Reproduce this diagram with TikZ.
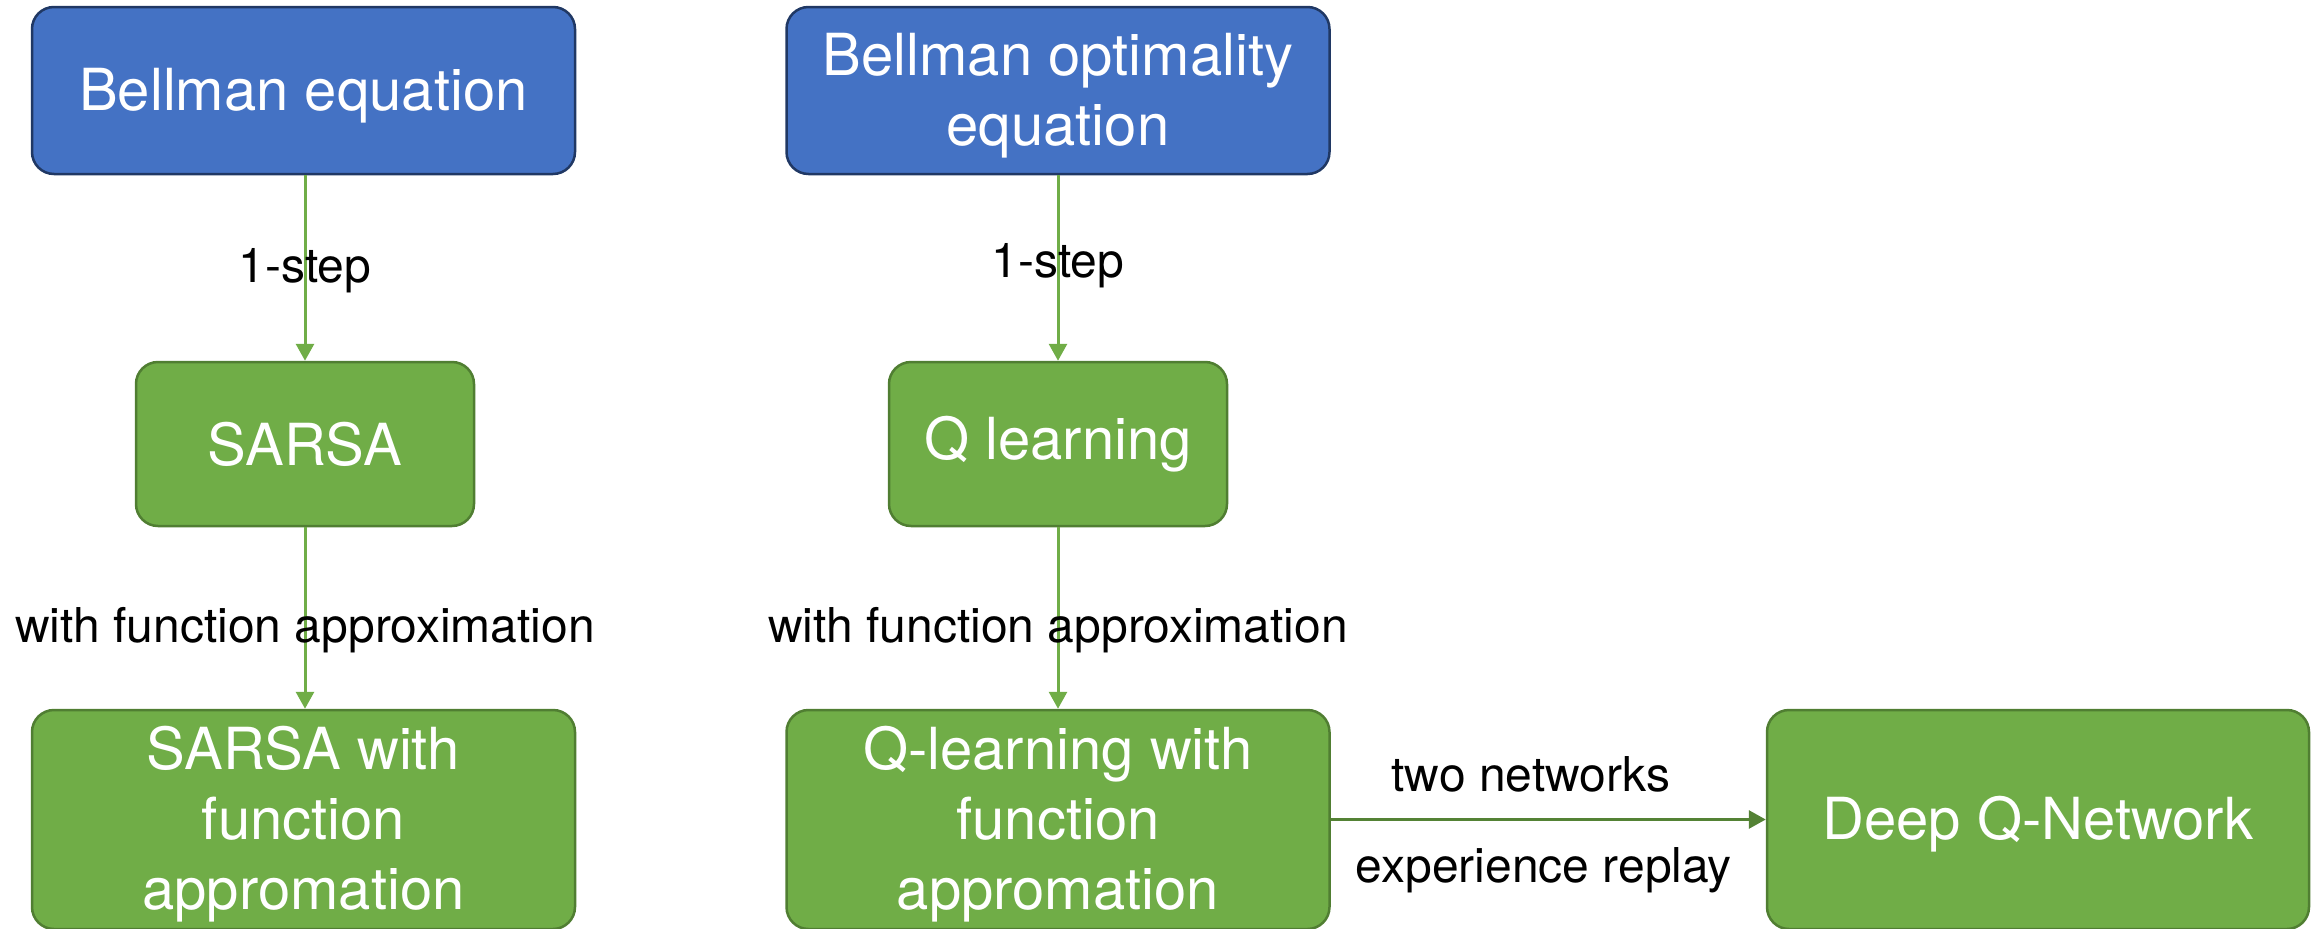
\documentclass[tikz,border=0pt]{standalone}
\usepackage{fontspec}
\setmainfont{TeX Gyre Heros}
\usetikzlibrary{arrows.meta,calc}
\definecolor{bluefill}{HTML}{4472C4}
\definecolor{blueline}{HTML}{203864}
\definecolor{greenfill}{HTML}{70AD47}
\definecolor{greenline}{HTML}{507E32}
\definecolor{arrowgreen}{HTML}{70AD47}
\definecolor{darkarrow}{HTML}{548235}
\newcommand{\dropstrut}{\rule{0pt}{52pt}}
\tikzset{
  box/.style={rectangle, rounded corners=22pt, line width=2.5pt, inner sep=0pt,
    align=center, text=white, font=\fontsize{58}{70}\selectfont},
  bluebox/.style={box, fill=bluefill, draw=blueline},
  greenbox/.style={box, fill=greenfill, draw=greenline},
  conn/.style={line width=3pt, draw=arrowgreen, -{Triangle[width=18pt,length=17pt]}},
  hconn/.style={line width=3pt, draw=darkarrow, -{Triangle[width=18pt,length=17pt]}},
  lbl/.style={text=black, font=\fontsize{48}{56}\selectfont, inner sep=0pt}
}
\begin{document}
\begin{tikzpicture}[x=1pt,y=-1pt]
\useasboundingbox (0,0) rectangle (2316,929);
\node[bluebox, minimum width=543pt, minimum height=167pt] (be) at (303.5,90.5) {\dropstrut Bellman equation};
\node[bluebox, minimum width=543pt, minimum height=167pt] (bo) at (1058,90.5) {\dropstrut Bellman optimality\\equation};
\node[greenbox, minimum width=338pt, minimum height=164pt] (sarsa) at (305,444) {SARSA};
\node[greenbox, minimum width=338pt, minimum height=164pt] (ql) at (1058,444) {Q learning};
\node[greenbox, minimum width=543pt, minimum height=219pt] (sfa) at (303.5,819.5) {\dropstrut SARSA with\\function\\appromation};
\node[greenbox, minimum width=543pt, minimum height=219pt] (qfa) at (1058,819.5) {\dropstrut Q-learning with\\function\\appromation};
\node[greenbox, minimum width=542pt, minimum height=219pt] (dqn) at (2038,819.5) {\dropstrut Deep Q-Network};

\draw[conn] (sarsa.north |- be.south) -- node[lbl, yshift=-3pt] {1-step} (sarsa.north);
\draw[conn] (sarsa.south) -- node[lbl, yshift=-12pt] {with function approximation} (sarsa.south |- sfa.north);
\draw[conn] (ql.north |- bo.south) -- node[lbl, yshift=2pt] {1-step} (ql.north);
\draw[conn] (ql.south) -- node[lbl, yshift=-12pt] {with function approximation} (ql.south |- qfa.north);
\draw[hconn] (qfa.east) -- (dqn.west)
  node[lbl, pos=0.46, yshift=45pt] {two networks}
  node[lbl, pos=0.49, yshift=-51pt] {experience replay};
\end{tikzpicture}
\end{document}
